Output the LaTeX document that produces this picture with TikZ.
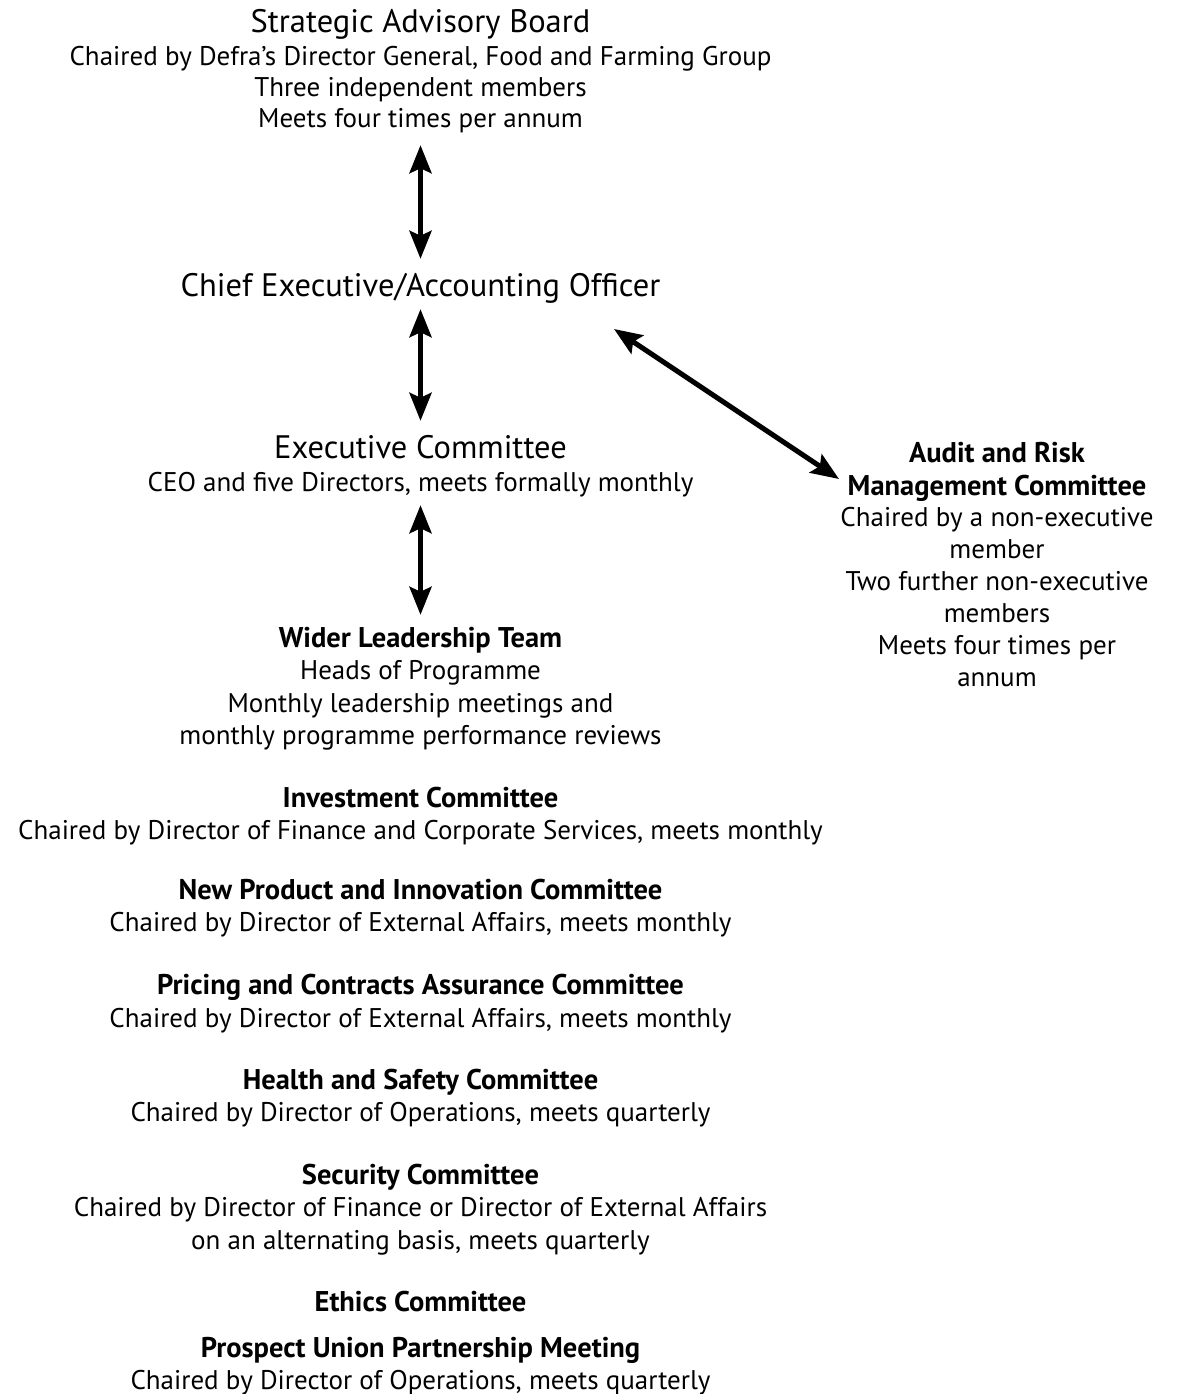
\documentclass[tikz,border=0pt]{standalone}
\usepackage{fontspec}
\setmainfont{PT Sans}
\usetikzlibrary{arrows.meta}
\tikzset{
  body/.style={anchor=base, inner sep=0pt, font=\fontsize{27}{32}\selectfont, text height=18pt, text depth=6pt},
  head/.style={body, font=\bfseries\fontsize{28.5}{32}\selectfont},
  title/.style={anchor=base, inner sep=0pt, font=\fontsize{32.5}{38}\selectfont, text height=22pt, text depth=7pt},
  biarrow/.style={line width=5pt, {Stealth[length=28pt,width=22pt,inset=5pt]}-{Stealth[length=28pt,width=22pt,inset=5pt]}}
}
\begin{document}
\begin{tikzpicture}[x=1pt,y=-1pt]
\useasboundingbox (0,0) rectangle (1183,1394);
% Strategic Advisory Board
\node[title] (sab) at (420.5,33) {Strategic Advisory Board};
\node[body] (sab1) at (420.5,66) {Chaired by Defra’s Director General, Food and Farming Group};
\node[body] (sab2) at (420.5,97) {Three independent members};
\node[body] (sab3) at (420.5,128) {Meets four times per annum};
% CEO
\node[title] (ceo) at (420.5,296) {Chief Executive/Accounting Officer};
% Executive Committee
\node[title] (ec) at (420.5,458) {Executive Committee};
\node[body] (ec1) at (420.5,491) {CEO and five Directors, meets formally monthly};
% Wider Leadership Team
\node[head] (wlt) at (420.5,647) {Wider Leadership Team};
\node[body] (wlt1) at (420.5,679) {Heads of Programme};
\node[body] (wlt2) at (420.5,712) {Monthly leadership meetings and};
\node[body] (wlt3) at (420.5,744) {monthly programme performance reviews};
% Investment
\node[head] (inv) at (420.5,807) {Investment Committee};
\node[body] (inv1) at (420.5,839) {Chaired by Director of Finance and Corporate Services, meets monthly};
% New Product
\node[head] (npi) at (420.5,899) {New Product and Innovation Committee};
\node[body] (npi1) at (420.5,931) {Chaired by Director of External Affairs, meets monthly};
% Pricing
\node[head] (pca) at (420.5,994) {Pricing and Contracts Assurance Committee};
\node[body] (pca1) at (420.5,1027) {Chaired by Director of External Affairs, meets monthly};
% Health and Safety
\node[head] (hs) at (420.5,1089) {Health and Safety Committee};
\node[body] (hs1) at (420.5,1121) {Chaired by Director of Operations, meets quarterly};
% Security
\node[head] (sec) at (420.5,1184) {Security Committee};
\node[body] (sec1) at (420.5,1216) {Chaired by Director of Finance or Director of External Affairs};
\node[body] (sec2) at (420.5,1249) {on an alternating basis, meets quarterly};
% Ethics
\node[head] (eth) at (420.5,1311) {Ethics Committee};
% Prospect
\node[head] (pu) at (420.5,1357) {Prospect Union Partnership Meeting};
\node[body] (pu1) at (420.5,1389) {Chaired by Director of Operations, meets quarterly};
% Audit
\node[head] (aud) at (997,462) {Audit and Risk};
\node[head] (aud1) at (997,495) {Management Committee};
\node[body] (aud2) at (997,526) {Chaired by a non-executive};
\node[body] (aud3) at (997,558) {member};
\node[body] (aud4) at (997,590) {Two further non-executive};
\node[body] (aud5) at (997,622) {members};
\node[body] (aud6) at (997,654) {Meets four times per};
\node[body] (aud7) at (997,686) {annum};
% connectors
\draw[biarrow, shorten <=11pt, shorten >=15pt] (sab3.south) -- (ceo.north);
\draw[biarrow, shorten <=6pt, shorten >=15pt] (ceo.south) -- (ec.north);
\draw[biarrow, shorten <=8pt, shorten >=14pt] (ec1.south) -- (wlt.north);
\coordinate (dA) at (614,329);
\coordinate (dB) at (839,479);
\draw[biarrow] (dA) -- (dB);
\end{tikzpicture}
\end{document}
